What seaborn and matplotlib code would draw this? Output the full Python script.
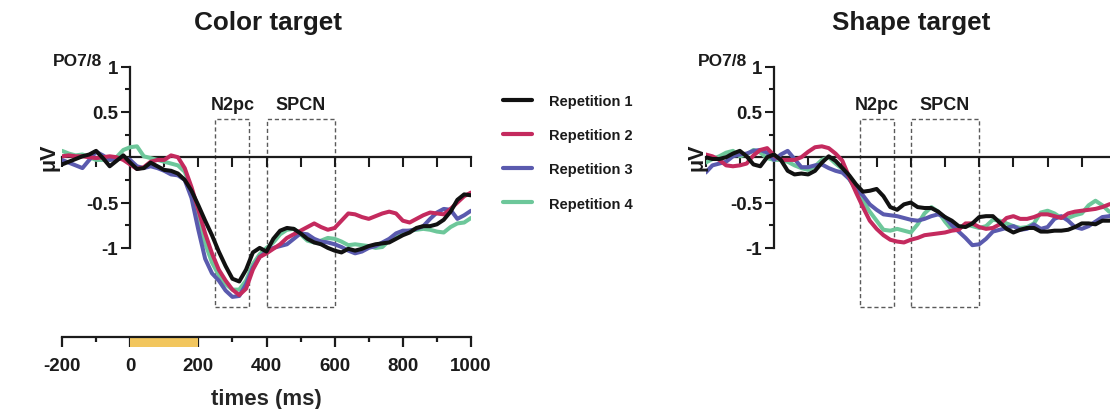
import numpy as np
import pandas as pd
import matplotlib
matplotlib.use("Agg")
import matplotlib.pyplot as plt
import seaborn as sns
from matplotlib.patches import Rectangle
from matplotlib.lines import Line2D

# ---------------------------------------------------------------- data
times = list(range(-200, 1001, 20))  # ms

repetitions = ["Repetition 1", "Repetition 2", "Repetition 3", "Repetition 4"]
rep_colors = ["#111111", "#C42A5E", "#5A5AAE", "#6DC79A"]

# Color target, PO7/8 contralateral-minus-ipsilateral (µV)
color_rep1 = [
    -0.08, -0.05, -0.02, 0.01, 0.03, 0.07, -0.01, -0.10, -0.04, 0.02,
    -0.06, -0.13, -0.12, -0.06, -0.10, -0.14, -0.15, -0.18, -0.25, -0.37,
    -0.53, -0.70, -0.86, -1.04, -1.20, -1.34, -1.37, -1.24, -1.05, -1.00,
    -1.04, -0.90, -0.81, -0.78, -0.79, -0.84, -0.90, -0.94, -0.96, -1.00,
    -1.03, -1.05, -1.01, -1.03, -1.01, -0.98, -0.96, -0.95, -0.94, -0.90,
    -0.86, -0.83, -0.78, -0.76, -0.76, -0.74, -0.69, -0.60, -0.47, -0.41,
    -0.42]
color_rep2 = [
    0.01, 0.02, 0.01, 0.01, 0.00, -0.01, 0.00, 0.01, 0.00, -0.03,
    -0.08, -0.13, -0.11, -0.05, -0.03, -0.03, 0.02, 0.00, -0.12, -0.33,
    -0.58, -0.84, -1.06, -1.24, -1.36, -1.46, -1.52, -1.45, -1.24, -1.10,
    -1.06, -1.01, -0.96, -0.89, -0.85, -0.81, -0.77, -0.73, -0.77, -0.80,
    -0.78, -0.70, -0.62, -0.63, -0.66, -0.68, -0.65, -0.62, -0.60, -0.62,
    -0.70, -0.72, -0.68, -0.64, -0.61, -0.62, -0.63, -0.57, -0.50, -0.43,
    -0.39]
color_rep3 = [
    -0.03, -0.06, -0.09, -0.12, -0.03, 0.06, 0.02, -0.03, -0.02, -0.01,
    -0.03, -0.10, -0.12, -0.10, -0.12, -0.15, -0.19, -0.20, -0.25, -0.45,
    -0.80, -1.12, -1.28, -1.36, -1.47, -1.54, -1.53, -1.40, -1.22, -1.10,
    -1.04, -1.00, -0.98, -0.96, -0.90, -0.84, -0.85, -0.90, -0.93, -0.94,
    -0.96, -0.99, -1.03, -1.06, -1.04, -1.00, -0.98, -0.94, -0.90, -0.84,
    -0.81, -0.81, -0.79, -0.76, -0.68, -0.61, -0.57, -0.58, -0.68, -0.64,
    -0.59]
color_rep4 = [
    0.07, 0.04, 0.02, 0.03, 0.00, -0.03, -0.03, -0.03, 0.00, 0.08,
    0.11, 0.12, 0.01, -0.01, -0.03, -0.05, -0.07, -0.09, -0.16, -0.35,
    -0.65, -0.95, -1.16, -1.30, -1.40, -1.46, -1.46, -1.36, -1.18, -1.07,
    -1.00, -0.94, -0.85, -0.80, -0.79, -0.85, -0.92, -0.94, -0.92, -0.89,
    -0.90, -0.93, -0.97, -0.96, -0.97, -0.98, -1.00, -0.99, -0.92, -0.86,
    -0.82, -0.81, -0.80, -0.79, -0.80, -0.82, -0.83, -0.77, -0.73, -0.72,
    -0.67]

# Shape target
shape_rep1 = [
    0.00, -0.02, -0.02, 0.00, 0.04, 0.07, 0.01, -0.08, -0.10, 0.00,
    0.03, -0.03, -0.15, -0.19, -0.18, -0.19, -0.15, -0.06, 0.01, -0.04,
    -0.12, -0.20, -0.30, -0.38, -0.37, -0.35, -0.43, -0.55, -0.58, -0.52,
    -0.50, -0.55, -0.56, -0.56, -0.60, -0.66, -0.70, -0.76, -0.77, -0.73,
    -0.66, -0.65, -0.65, -0.72, -0.79, -0.83, -0.80, -0.78, -0.78, -0.82,
    -0.82, -0.81, -0.81, -0.80, -0.77, -0.73, -0.73, -0.74, -0.70, -0.70,
    -0.69]
shape_rep2 = [
    0.03, 0.01, -0.03, -0.09, -0.10, -0.09, -0.07, 0.02, 0.08, 0.10,
    0.02, -0.03, -0.03, -0.03, 0.00, 0.06, 0.11, 0.12, 0.10, 0.04,
    -0.04, -0.22, -0.39, -0.55, -0.70, -0.79, -0.86, -0.91, -0.93, -0.94,
    -0.91, -0.89, -0.86, -0.85, -0.84, -0.83, -0.81, -0.80, -0.73, -0.73,
    -0.77, -0.79, -0.78, -0.74, -0.67, -0.65, -0.68, -0.68, -0.66, -0.63,
    -0.63, -0.65, -0.67, -0.62, -0.60, -0.59, -0.58, -0.57, -0.55, -0.52,
    -0.50]
shape_rep3 = [
    -0.17, -0.09, -0.07, -0.05, 0.01, 0.03, 0.04, 0.07, 0.08, 0.05,
    -0.03, 0.03, 0.07, -0.02, -0.11, -0.11, -0.09, -0.08, -0.12, -0.15,
    -0.17, -0.24, -0.35, -0.42, -0.52, -0.58, -0.63, -0.64, -0.65, -0.67,
    -0.69, -0.70, -0.68, -0.65, -0.63, -0.66, -0.75, -0.82, -0.89, -0.97,
    -0.96, -0.90, -0.82, -0.80, -0.78, -0.76, -0.80, -0.79, -0.74, -0.79,
    -0.77, -0.68, -0.65, -0.70, -0.77, -0.79, -0.76, -0.71, -0.66, -0.65,
    -0.63]
shape_rep4 = [
    -0.06, -0.02, 0.01, 0.05, 0.07, 0.01, 0.03, 0.08, 0.05, -0.01,
    -0.03, -0.03, -0.05, -0.09, -0.12, -0.14, -0.10, -0.03, 0.00, -0.07,
    -0.13, -0.24, -0.36, -0.48, -0.60, -0.70, -0.80, -0.81, -0.79, -0.81,
    -0.83, -0.74, -0.62, -0.55, -0.60, -0.71, -0.80, -0.78, -0.74, -0.76,
    -0.78, -0.76, -0.69, -0.70, -0.73, -0.76, -0.78, -0.77, -0.73, -0.61,
    -0.59, -0.62, -0.67, -0.67, -0.64, -0.62, -0.53, -0.48, -0.53, -0.60,
    -0.62]

# analysis windows (ms)
windows = {"N2pc": (250, 350), "SPCN": (400, 600)}
stim_window = (0, 200)

ytick_values = [-1, -0.5, 0.5, 1]
ytick_labels = ["-1", "-0.5", "0.5", "1"]
ytick_minor = [-0.75, -0.25, 0.25, 0.75]

# ---------------------------------------------------------------- style
sns.set_style("ticks")
plt.rcParams["font.family"] = ["Liberation Sans", "DejaVu Sans"]
plt.rcParams["font.weight"] = "bold"
plt.rcParams["axes.labelweight"] = "bold"
INK = "#1b1b1b"
plt.rcParams["text.color"] = INK
plt.rcParams["xtick.color"] = INK
plt.rcParams["ytick.color"] = INK
plt.rcParams["axes.edgecolor"] = INK

W, H = 1110, 410
fig = plt.figure(figsize=(W / 100, H / 100), dpi=100)
fig.patch.set_facecolor("white")


def px_box(x0, y0, x1, y1):
    """Axes rectangle from pixel corners (origin top-left)."""
    return [x0 / W, 1 - y1 / H, (x1 - x0) / W, (y1 - y0) / H]


def to_long(series):
    rows = []
    for name, vals in zip(repetitions, series):
        rows.append(pd.DataFrame({"time": times, "uv": vals, "rep": name}))
    return pd.concat(rows, ignore_index=True)


def draw_panel(ax, series):
    df = to_long(series)
    palette = dict(zip(repetitions, rep_colors))
    sns.lineplot(data=df, x="time", y="uv", hue="rep",
                 hue_order=repetitions[::-1], palette=palette,
                 linewidth=2.9, legend=False, ax=ax,
                 solid_joinstyle="round", solid_capstyle="round")
    ax.set_xlim(-200, 1000)
    ax.set_ylim(-1.7, 1.0)
    ax.set_xlabel("")
    ax.set_ylabel("")
    ax.patch.set_alpha(0)
    for s in ("top", "right"):
        ax.spines[s].set_visible(False)
    ax.spines["left"].set_position(("data", 0))
    ax.spines["bottom"].set_position(("data", 0))
    ax.spines["left"].set_bounds(-1, 1)
    for s in ("left", "bottom"):
        ax.spines[s].set_linewidth(1.6)
        ax.spines[s].set_zorder(1)
    ax.set_xticks(np.arange(-200, 1001, 100))
    ax.tick_params(axis="x", direction="out", length=7, width=1.5,
                   labelbottom=False)
    ax.set_yticks(ytick_values)
    ax.set_yticklabels(ytick_labels)
    ax.set_yticks(ytick_minor, minor=True)
    ax.tick_params(axis="y", which="major", direction="out", length=6.5,
                   width=1.5, labelsize=13.5, pad=2)
    ax.tick_params(axis="y", which="minor", direction="out", length=3.5,
                   width=1.5)
    for lab in ax.get_yticklabels():
        lab.set_fontweight("bold")
    # analysis windows
    for name, (t0, t1) in windows.items():
        ax.add_patch(Rectangle((t0, -1.65), t1 - t0, 0.42 + 1.65, fill=False,
                               ec="#5a5a5a", lw=1.0, ls=(0, (3, 2)),
                               clip_on=False, zorder=0.5))
        ax.text((t0 + t1) / 2, 0.58, name, ha="center", va="center",
                fontsize=13, fontweight="bold")


# ---------------------------------------------------------------- panels
ax_c = fig.add_axes(px_box(62, 67.5, 471, 312.4))
draw_panel(ax_c, [color_rep1, color_rep2, color_rep3, color_rep4])

ax_s = fig.add_axes(px_box(705.6, 67.5, 1116, 312.4))
draw_panel(ax_s, [shape_rep1, shape_rep2, shape_rep3, shape_rep4])

# separate time axis under the colour panel, with the stimulus bar
ax_t = fig.add_axes(px_box(62, 338, 471, 348))
ax_t.set_xlim(-200, 1000)
ax_t.set_ylim(0, 1)
ax_t.axvspan(*stim_window, color="#F2C65E", lw=0)
for s in ("top", "left", "right"):
    ax_t.spines[s].set_visible(False)
ax_t.spines["bottom"].set_position(("axes", 1.0))
ax_t.spines["bottom"].set_linewidth(1.6)
ax_t.set_yticks([])
ax_t.set_xticks(np.arange(-200, 1001, 200))
ax_t.set_xticks(np.arange(-100, 1000, 200), minor=True)
ax_t.tick_params(axis="x", which="major", direction="out", length=7.2,
                 width=1.6, labelsize=13.5, pad=7)
ax_t.tick_params(axis="x", which="minor", direction="out", length=3.6,
                 width=1.6)
ax_t.set_xticklabels([str(v) for v in range(-200, 1001, 200)],
                     fontweight="bold")
ax_t.set_xlabel("times (ms)", fontsize=16, fontweight="bold", labelpad=10)
ax_t.patch.set_alpha(0)

# titles and axis annotations
fig.text(268 / W, 1 - 23 / H, "Color target", ha="center", va="center",
         fontsize=18.8, fontweight="bold")
fig.text(911 / W, 1 - 23 / H, "Shape target", ha="center", va="center",
         fontsize=18.8, fontweight="bold")
for x_right in (102, 747):
    fig.text(x_right / W, 1 - 62 / H, "PO7/8", ha="right", va="center",
             fontsize=12.5, fontweight="bold")
for x_c in (49, 697):
    fig.text(x_c / W, 1 - 157 / H, "μV", ha="center", va="center",
             rotation=90, fontsize=15.5, fontweight="bold")

# legend
handles = [Line2D([], [], color=c, lw=3) for c in rep_colors]
fig.legend(handles, repetitions, loc="center left",
           bbox_to_anchor=(503 / W, 1 - 153.4 / H), frameon=False,
           handlelength=2.0, handletextpad=1.15,
           labelspacing=1.38, borderpad=0, borderaxespad=0,
           prop={"weight": "bold", "size": 10.5})

fig.savefig("out.png", dpi=100)
